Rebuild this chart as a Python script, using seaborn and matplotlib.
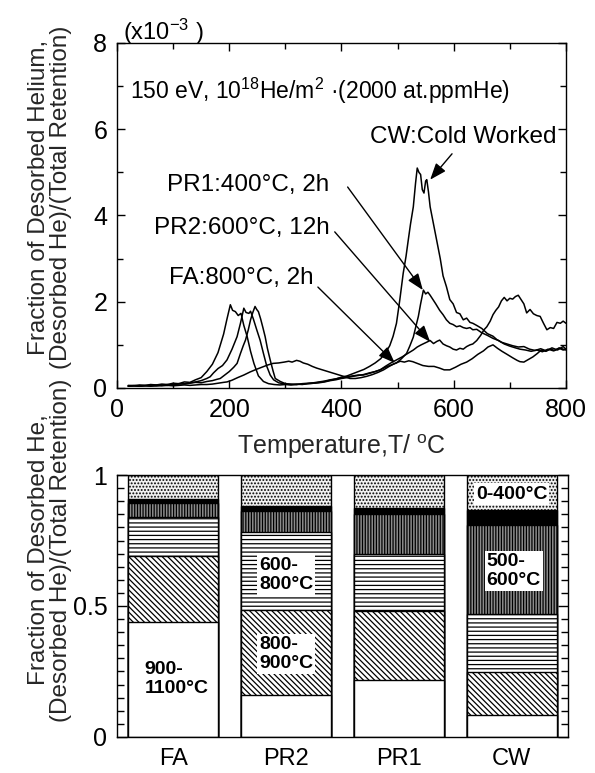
import numpy as np
import pandas as pd
import matplotlib
matplotlib.use("Agg")
import matplotlib.pyplot as plt
import seaborn as sns
from matplotlib.ticker import MultipleLocator, FixedLocator, FixedFormatter

# ---------------- data: TDS curves (x1e-3) ----------------
T_cw = [20,30,40,50,60,70,80,90,100,110,120,130,140,150,160,170,180,190,196,202,206,211,216,221,226,232,238,244,252,261,270,280,290,300,310,320,330,340,350,360,370,380,390,400,410,420,430,440,450,460,470,480,486,492,498,504,510,515,519,523,528,532,535,538,541,544,547,550,552,555,558,564,570,576,581,587,593,599,605,611,617,623,629,634,641,650,660,670,677,685,695,705,715,725,735,745,755,765,775,785,795,800]
V_cw = [0.06,0.05,0.07,0.06,0.08,0.07,0.09,0.08,0.11,0.10,0.14,0.13,0.19,0.24,0.38,0.55,0.82,1.25,1.60,1.93,1.80,1.77,1.68,1.73,1.45,1.19,0.85,0.57,0.28,0.15,0.10,0.08,0.07,0.08,0.07,0.08,0.09,0.10,0.11,0.13,0.15,0.18,0.21,0.25,0.28,0.33,0.38,0.43,0.50,0.58,0.68,0.85,0.98,1.20,1.50,2.05,2.66,3.05,3.43,3.80,4.20,4.75,5.10,5.00,4.95,4.60,4.52,4.80,4.83,4.55,4.20,3.80,3.40,3.00,2.60,2.35,2.05,1.95,1.75,1.72,1.58,1.62,1.52,1.50,1.45,1.38,1.26,1.20,1.12,1.06,1.02,0.98,0.95,0.96,0.90,0.87,0.91,0.86,0.93,0.88,0.96,0.90]

T_pr1 = [20,30,40,50,60,70,80,90,100,110,120,130,140,150,160,166,172,180,188,196,205,214,220,226,230,235,238,243,249,255,261,267,273,279,288,300,310,320,330,340,350,360,370,380,390,400,410,420,430,439,450,460,469,478,488,498,507,516,522,528,533,537,541,546,550,554,558,563,568,575,581,587,593,599,605,611,617,623,629,634,641,650,660,670,680,690,700,710,718,728,738,748,758,768,778,788,800]
V_pr1 = [0.04,0.05,0.04,0.05,0.06,0.05,0.07,0.06,0.08,0.09,0.10,0.12,0.14,0.17,0.22,0.26,0.35,0.45,0.52,0.65,0.90,1.19,1.50,1.85,1.75,1.73,1.78,1.60,1.35,1.11,0.80,0.50,0.30,0.19,0.12,0.09,0.08,0.09,0.08,0.10,0.11,0.12,0.14,0.17,0.19,0.22,0.24,0.27,0.29,0.31,0.35,0.38,0.42,0.48,0.53,0.58,0.68,0.80,0.98,1.18,1.45,1.66,1.95,2.27,2.18,2.22,2.15,2.05,1.95,1.80,1.70,1.58,1.50,1.47,1.42,1.44,1.40,1.38,1.40,1.35,1.36,1.28,1.22,1.15,1.10,1.02,0.97,0.93,0.90,0.88,0.85,0.88,0.84,0.90,0.86,0.93,0.88]

T_pr2 = [20,30,40,50,60,70,80,90,100,110,120,130,140,150,160,170,178,184,192,200,208,214,220,225,229,234,238,242,246,249,252,256,260,264,268,273,278,282,291,300,310,320,330,340,350,360,370,380,390,400,410,420,430,439,450,460,469,478,488,498,508,518,528,535,542,550,558,564,570,575,581,587,593,599,605,611,617,623,629,634,641,648,654,659,665,670,675,680,685,690,695,700,705,710,715,720,725,730,736,742,748,754,760,766,772,778,784,790,795,800]
V_pr2 = [0.05,0.06,0.05,0.06,0.05,0.07,0.06,0.08,0.07,0.10,0.09,0.11,0.13,0.12,0.15,0.17,0.20,0.22,0.30,0.38,0.48,0.57,0.80,0.98,1.11,1.35,1.58,1.75,1.89,1.82,1.77,1.60,1.40,1.19,0.92,0.65,0.40,0.22,0.15,0.10,0.09,0.08,0.10,0.11,0.12,0.14,0.16,0.19,0.21,0.24,0.26,0.28,0.30,0.30,0.34,0.38,0.42,0.50,0.58,0.65,0.72,0.80,0.88,0.95,1.00,1.05,1.10,1.03,1.08,1.11,1.02,0.98,0.95,0.90,0.88,0.92,0.90,0.96,1.00,1.02,1.10,1.22,1.35,1.42,1.55,1.70,1.80,1.88,2.02,2.10,2.02,2.08,2.06,2.12,2.15,2.05,1.95,1.74,1.82,1.72,1.68,1.66,1.50,1.35,1.40,1.38,1.52,1.50,1.55,1.50]

T_fa = [20,30,40,50,60,70,80,90,100,110,120,130,140,150,160,170,180,190,196,205,215,226,237,248,258,268,278,288,298,306,312,320,326,332,340,348,356,366,376,386,396,406,415,425,435,445,455,465,475,485,495,505,512,520,527,535,545,555,565,575,583,593,603,613,623,633,643,653,661,670,678,686,695,705,713,718,725,733,741,749,756,764,772,780,788,795,800]
V_fa = [0.04,0.05,0.04,0.05,0.04,0.05,0.05,0.06,0.05,0.06,0.07,0.06,0.07,0.08,0.08,0.09,0.11,0.13,0.14,0.18,0.24,0.30,0.37,0.43,0.48,0.53,0.57,0.58,0.60,0.62,0.60,0.64,0.62,0.58,0.55,0.50,0.46,0.42,0.38,0.34,0.30,0.26,0.22,0.22,0.24,0.27,0.31,0.36,0.42,0.50,0.57,0.62,0.60,0.63,0.61,0.57,0.52,0.50,0.50,0.46,0.42,0.42,0.48,0.55,0.60,0.68,0.78,0.86,0.95,1.00,0.92,0.85,0.78,0.70,0.64,0.61,0.60,0.66,0.72,0.80,0.88,0.85,0.90,0.87,0.92,0.88,0.90]

# ---------------- data: desorption fractions ----------------
samples = ["FA", "PR2", "PR1", "CW"]
frac_0_400 = [0.090, 0.119, 0.125, 0.135]
frac_400_500 = [0.016, 0.019, 0.022, 0.054]
frac_500_600 = [0.053, 0.080, 0.154, 0.342]
frac_600_800 = [0.151, 0.299, 0.220, 0.222]
frac_800_900 = [0.253, 0.321, 0.262, 0.164]
frac_900_1100 = [0.437, 0.162, 0.217, 0.083]

# ---------------- style ----------------
sns.set_style("ticks")
plt.rcParams["font.family"] = ["Liberation Sans", "DejaVu Sans"]
plt.rcParams["mathtext.fontset"] = "custom"
plt.rcParams["mathtext.rm"] = "Liberation Sans"
plt.rcParams["mathtext.it"] = "Liberation Sans:italic"
plt.rcParams["mathtext.bf"] = "Liberation Sans:bold"
plt.rcParams["hatch.linewidth"] = 0.9
plt.rcParams["axes.linewidth"] = 1.0
plt.rcParams["axes.edgecolor"] = "black"
plt.rcParams["xtick.color"] = "black"
plt.rcParams["ytick.color"] = "black"
plt.rcParams["text.color"] = "black"

fig = plt.figure(figsize=(5.95, 7.73), dpi=100)
ax1 = fig.add_axes([0.1966, 0.4981, 0.7546, 0.4463])
ax2 = fig.add_axes([0.1966, 0.0466, 0.7580, 0.3389])

# ---------------- top panel ----------------
frames = []
for name, T, V in [("CW", T_cw, V_cw), ("PR1", T_pr1, V_pr1),
                   ("PR2", T_pr2, V_pr2), ("FA", T_fa, V_fa)]:
    frames.append(pd.DataFrame({"T": T, "v": V, "sample": name}))
df = pd.concat(frames, ignore_index=True)
sns.lineplot(data=df, x="T", y="v", units="sample", estimator=None, sort=False,
             color="black", lw=1.1, ax=ax1, legend=False)

ax1.set_xlim(0, 800)
ax1.set_ylim(0, 8)
ax1.xaxis.set_major_locator(MultipleLocator(200))
ax1.xaxis.set_minor_locator(MultipleLocator(100))
ax1.yaxis.set_major_locator(MultipleLocator(2))
ax1.yaxis.set_minor_locator(MultipleLocator(1))
ax1.tick_params(which="both", direction="in", top=True, right=True,
                labelsize=18, width=1)
ax1.tick_params(which="major", length=6, pad=7)
ax1.tick_params(which="minor", length=4)
for s in ax1.spines.values():
    s.set_visible(True)
ax1.set_xlabel("Temperature,T/ $^{\\mathrm{o}}$C", fontsize=18, labelpad=8)
ax1.set_ylabel("Fraction of Desorbed Helium,\n(Desorbed He)/(Total Retention)",
               fontsize=17.5, linespacing=1.0)
ax1.yaxis.set_label_coords(-0.100, 0.553)

fig.text(123 / 595, 1 - 32 / 773, "(x10$^{-3}$ )", fontsize=17,
         ha="left", va="center")
ax1.text(23, 6.9, "150 eV, 10$^{18}$He/m$^{2}$ \u00b7(2000 at.ppmHe)",
         fontsize=16.5, ha="left", va="center")

arrow_kw = dict(arrowstyle="-|>,head_length=1.0,head_width=0.38",
                color="black", lw=1.0, shrinkA=0, shrinkB=0, mutation_scale=10)
ax1.text(617, 5.82, "CW:Cold Worked", fontsize=17.5, ha="center", va="center")
ax1.annotate("", xy=(558, 4.83), xytext=(597, 5.43), arrowprops=arrow_kw)
ax1.text(233, 4.71, "PR1:400\u00b0C, 2h", fontsize=17.5, ha="center", va="center")
ax1.annotate("", xy=(545, 2.27), xytext=(411, 4.66), arrowprops=arrow_kw)
ax1.text(222, 3.71, "PR2:600\u00b0C, 12h", fontsize=17.5, ha="center", va="center")
ax1.annotate("", xy=(558, 1.07), xytext=(388, 3.62), arrowprops=arrow_kw)
ax1.text(221, 2.55, "FA:800\u00b0C, 2h", fontsize=17.5, ha="center", va="center")
ax1.annotate("", xy=(495, 0.58), xytext=(358, 2.34), arrowprops=arrow_kw)

# ---------------- bottom panel ----------------
layers_bottom_up = [frac_900_1100, frac_800_900, frac_600_800,
                    frac_500_600, frac_400_500, frac_0_400]
styles_bottom_up = [
    dict(face="white", hatch=None, hcol="black"),
    dict(face="white", hatch="\\\\\\\\\\\\", hcol="#555555"),
    dict(face="white", hatch="----", hcol="black"),
    dict(face="#8c8c8c", hatch="||||||", hcol="black"),
    dict(face="black", hatch=None, hcol="black"),
    dict(face="#f0f0f0", hatch=".....", hcol="#7a7a7a"),
]
cum = np.cumsum(np.array(layers_bottom_up), axis=0)

for i in reversed(range(len(layers_bottom_up))):
    st = styles_bottom_up[i]
    bdf = pd.DataFrame({"sample": samples, "top": cum[i]})
    n_before = len(ax2.patches)
    sns.barplot(data=bdf, x="sample", y="top", order=samples, color=st["face"],
                saturation=1, edgecolor="black", linewidth=1.0, width=0.8,
                ax=ax2, errorbar=None)
    for p in ax2.patches[n_before:]:
        p.set_facecolor(st["face"])
        p.set_edgecolor("black")
        if st["hatch"]:
            p.set_hatch(st["hatch"])
            try:
                p.set_hatchcolor(st["hcol"])
            except Exception:
                pass

ax2.set_xlim(-0.5, 3.5)
ax2.set_ylim(0, 1)
ax2.set_xlabel("")
ax2.set_ylabel("Fraction of Desorbed He,\n(Desorbed He)/(Total Retention)",
               fontsize=17.5, linespacing=1.0)
ax2.yaxis.set_label_coords(-0.0997, 0.714)
ax2.yaxis.set_major_locator(FixedLocator([0, 0.5, 1]))
ax2.yaxis.set_major_formatter(FixedFormatter(["0", "0.5", "1"]))
ax2.yaxis.set_minor_locator(MultipleLocator(0.05))
ax2.tick_params(axis="y", which="both", direction="in", left=True, right=True,
                labelsize=18, width=1)
ax2.tick_params(axis="y", which="major", length=7, pad=7)
ax2.tick_params(axis="y", which="minor", length=5)
ax2.tick_params(axis="x", length=0, labelsize=17, pad=8)
for s in ax2.spines.values():
    s.set_visible(True)

lab_kw = dict(fontsize=14, fontweight="bold", ha="center", va="center",
              multialignment="left", linespacing=1.15)
box = dict(facecolor="white", edgecolor="none", pad=1.5)
ax2.text(0.03, 0.22, "900-\n1100\u00b0C", **lab_kw)
ax2.text(1.0, 0.317, "800-\n900\u00b0C", bbox=box, **lab_kw)
ax2.text(1.0, 0.618, "600-\n800\u00b0C", bbox=box, **lab_kw)
ax2.text(3.0, 0.927, "0-400\u00b0C", bbox=box, **lab_kw)
ax2.text(3.02, 0.634, "500-\n600\u00b0C", bbox=box, **lab_kw)

fig.savefig("out.png", dpi=100)
